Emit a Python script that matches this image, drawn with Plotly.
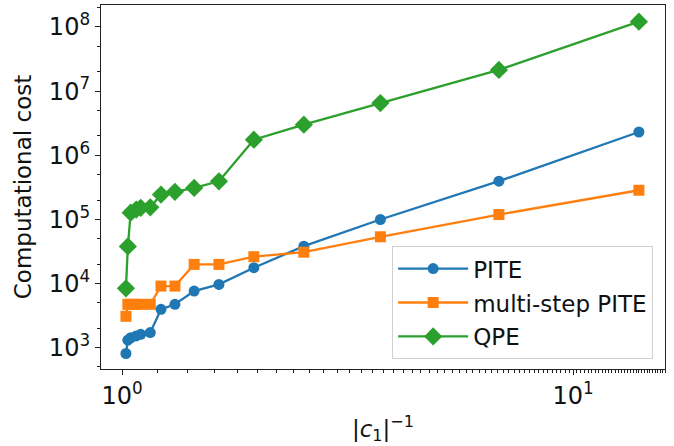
import plotly.graph_objects as go

# data
inv_c1 = [1.02, 1.03, 1.045, 1.075, 1.10, 1.155, 1.22, 1.31, 1.445, 1.64, 1.96, 2.53, 3.74, 6.85, 14.0]
pite = [807, 1300, 1420, 1515, 1610, 1712, 3945, 4720, 7600, 9660, 17580, 38100, 99300, 394000, 2.30e6]
multi_step_pite = [3070, 4720, 4720, 4720, 4720, 4720, 9090, 9090, 19800, 19800, 26100, 30700, 53400, 118700, 284000]
qpe = [8370, 37700, 127000, 142000, 151000, 154000, 243000, 268000, 309000, 391000, 1.745e6, 2.99e6, 6.5e6, 2.14e7, 1.21e8]

x_tickvals = [1, 10]
x_ticktext = ["10<sup>0</sup>", "10<sup>1</sup>"]
y_tickvals = [1e3, 1e4, 1e5, 1e6, 1e7, 1e8]
y_ticktext = ["10<sup>%d</sup>" % k for k in range(3, 9)]

font = "DejaVu Sans, Arial, sans-serif"

fig = go.Figure()
fig.add_trace(go.Scatter(x=inv_c1, y=pite, name="PITE", mode="lines+markers", legendgroup="a",
                         line=dict(color="#1f77b4", width=2.3),
                         marker=dict(symbol="circle", size=11, color="#1f77b4")))
fig.add_trace(go.Scatter(x=inv_c1, y=multi_step_pite, name="multi-step PITE", mode="lines+markers",
                         legendgroup="b",
                         line=dict(color="#ff7f0e", width=2.3),
                         marker=dict(symbol="square", size=11, color="#ff7f0e")))
fig.add_trace(go.Scatter(x=inv_c1, y=qpe, name="QPE", mode="lines+markers", legendgroup="c",
                         line=dict(color="#2ca02c", width=2.3),
                         marker=dict(symbol="diamond", size=14, color="#2ca02c")))

axis_common = dict(showline=True, linecolor="#222", linewidth=1.2, mirror=True,
                   ticks="outside", ticklen=5, tickwidth=1.2, tickcolor="#222",
                   showgrid=False, zeroline=False, automargin=False,
                   tickfont=dict(family=font, size=24, color="#111"),
                   minor=dict(ticks="outside", ticklen=3, tickwidth=1, tickcolor="#222", showgrid=False))

fig.update_xaxes(type="log", range=[-0.0467, 1.204], tickvals=x_tickvals, ticktext=x_ticktext,
                 title=dict(text="|<i>c</i><sub>1</sub>|<sup>−1</sup>", font=dict(family=font, size=23, color="#111"),
                            standoff=11),
                 **axis_common)
fig.update_yaxes(type="log", range=[2.665, 8.343], tickvals=y_tickvals, ticktext=y_ticktext,
                 title=dict(text="Computational cost", font=dict(family=font, size=23, color="#111"),
                            standoff=10),
                 **axis_common)

fig.update_layout(
    width=674, height=446,
    margin=dict(l=101, r=9, t=5, b=77),
    paper_bgcolor="white", plot_bgcolor="white",
    font=dict(family=font, size=23, color="#111"),
    showlegend=True,
    legend=dict(x=0.979, y=0.027, xanchor="right", yanchor="bottom",
                bgcolor="white", bordercolor="#d0d0d0", borderwidth=1,
                font=dict(family=font, size=23, color="#111"),
                itemwidth=70, tracegroupgap=1),
)

fig.write_html("out.html", config={"displayModeBar": False},
               post_script="document.body.style.margin='0';document.body.style.padding='0';")
